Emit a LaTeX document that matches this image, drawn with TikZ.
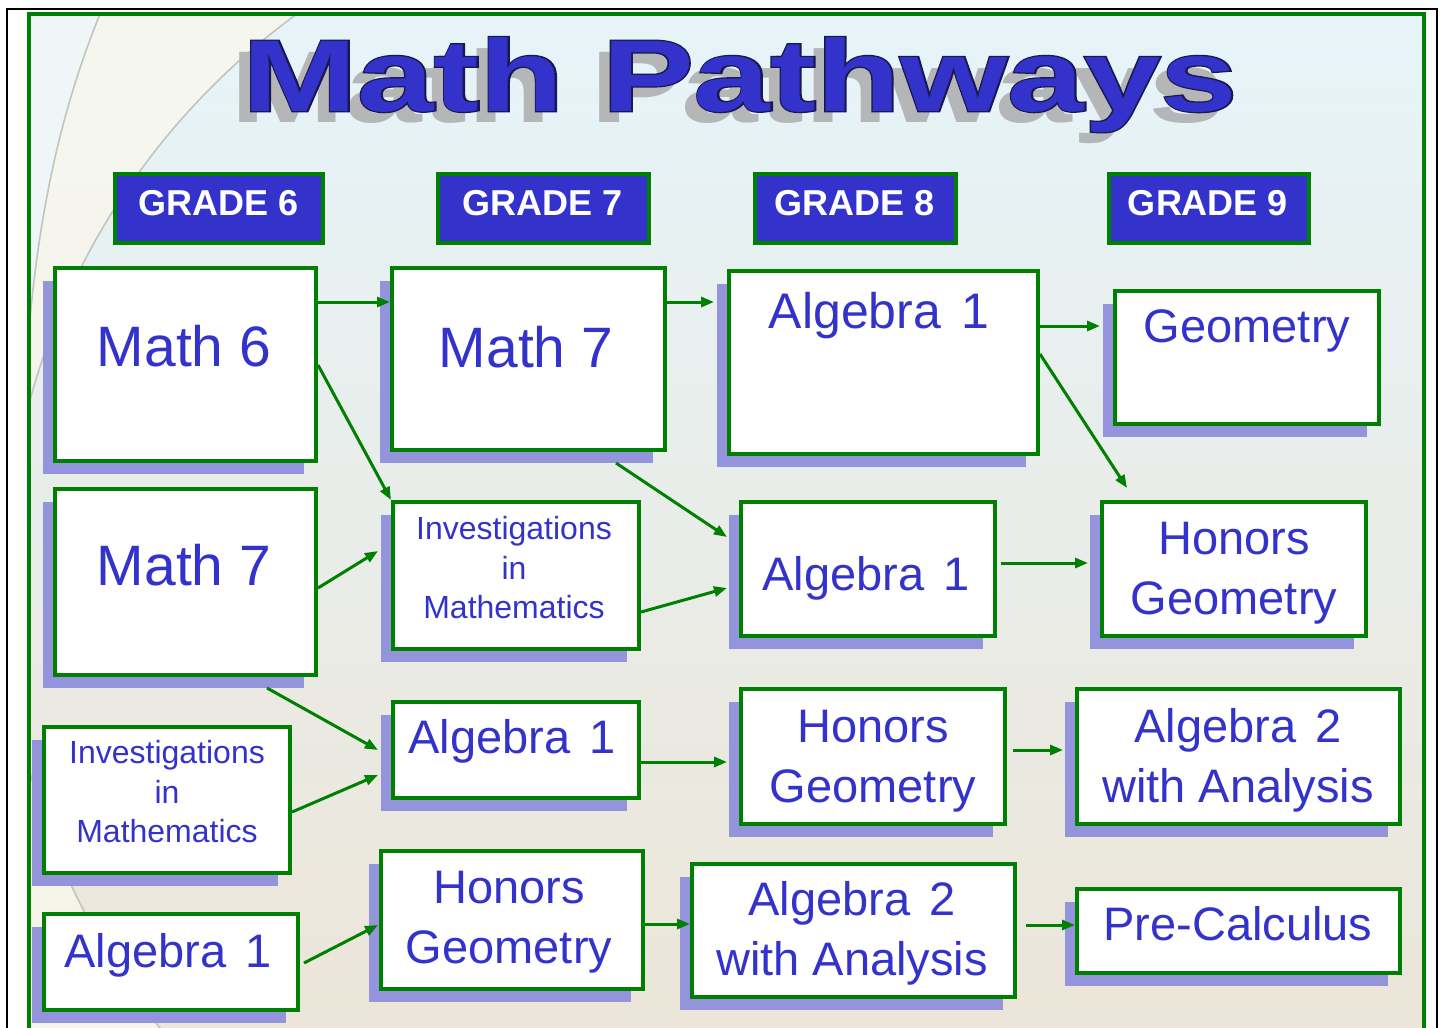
\documentclass[tikz,border=0pt]{standalone}
\usepackage{fontspec}
\setmainfont{Liberation Sans}
\newfontface\titleoutfont[FakeBold=2.5]{Liberation Sans Bold}
\usetikzlibrary{shadows,arrows.meta}
\definecolor{tblue}{RGB}{51,51,204}
\definecolor{gr}{RGB}{0,128,0}
\definecolor{shd}{RGB}{148,148,220}
\definecolor{tout}{RGB}{25,25,80}
\definecolor{tshadow}{RGB}{180,182,184}
\definecolor{bgtop}{RGB}{230,244,249}
\definecolor{bgmid}{RGB}{244,247,243}
\definecolor{bgbot}{RGB}{236,229,216}
\definecolor{cream}{RGB}{249,247,236}
\definecolor{bgleft}{RGB}{238,246,248}
\definecolor{arcc}{RGB}{195,195,192}
\tikzset{
 pbox/.style={draw=gr, line width=4pt, fill=white, inner sep=0pt,
   general shadow={fill=shd, shadow xshift=-12pt, shadow yshift=-13pt}},
 ghead/.style={draw=gr, line width=4pt, fill=tblue, inner sep=0pt},
 gtxt/.style={text=white, inner sep=0pt, anchor=base, font=\fontsize{36}{40}\selectfont\bfseries},
 lbl/.style={text=tblue, inner sep=0pt, anchor=base},
 big/.style={lbl, font=\fontsize{57}{66}\selectfont},
 midl/.style={lbl, font=\fontsize{47}{56}\selectfont},
 sml/.style={lbl, font=\fontsize{32}{40}\selectfont},
 conn/.style={draw=gr, line width=3pt, -{Triangle[length=13pt,width=10pt]}},
}
\newcommand\pb[5]{\node[pbox, minimum width={(#4-#2-4)*1pt}, minimum height={(#5-#3-4)*1pt}] (#1) at ({(#2+#4)/2},{(#3+#5)/2}) {};}
\newcommand\gh[5]{\node[ghead, minimum width={(#4-#2-4)*1pt}, minimum height={(#5-#3-4)*1pt}] (#1) at ({(#2+#4)/2},{(#3+#5)/2}) {};}
\begin{document}
\begin{tikzpicture}[x=1pt,y=-1pt]
\useasboundingbox (0,0) rectangle (1444,1028);
\fill[white] (0,0) rectangle (1444,1028);
% background
\begin{scope}
\clip (29,14) rectangle (1424,1040);
\shade[top color=bgtop, middle color=bgmid, bottom color=bgbot] (29,14) rectangle (1424,1040);
\begin{scope}
\clip (29,14) rectangle (330,1040);
\fill[cream, opacity=0.8, even odd rule] (29,14) rectangle (330,1040) (712.5,586.4) circle[radius=707.3];
\fill[bgleft] (29,14) -- (100,14) .. controls (65,100) and (40,200) .. (29,330) -- cycle;
\draw[arcc, line width=1.6pt] (100,14) .. controls (65,100) and (40,200) .. (29,330);
\draw[arcc, line width=1.6pt] (712.5,586.4) circle[radius=707.3];
\end{scope}
\end{scope}
\draw[black, line width=2.5pt] (7,9) rectangle (1437,1045);
\draw[gr, line width=3.5pt] (29,14) rectangle (1424,1045);
% title
\node[text=tshadow, inner sep=0pt, anchor=base, font=\fontsize{102}{110}\selectfont\bfseries] (tsh) at (728,122) {\scalebox{1.35}[1]{Math Pathways}};
\node[text=tout, inner sep=0pt, anchor=base, font=\fontsize{102}{110}\titleoutfont] (tedge) at (740,111) {\scalebox{1.35}[1]{Math Pathways}};
\node[text=tblue, inner sep=0pt, anchor=base, font=\fontsize{102}{110}\selectfont\bfseries] (title) at (740,111) {\scalebox{1.35}[1]{Math Pathways}};
% grade headers
\gh{g6}{113}{172}{325}{245}
\gh{g7}{436}{172}{651}{245}
\gh{g8}{753}{172}{958}{245}
\gh{g9}{1107}{172}{1311}{245}
\node[gtxt] (g6t) at (219,215) {GRADE 6};
\node[gtxt] (g7t) at (543,215) {GRADE 7};
\node[gtxt] (g8t) at (855,215) {GRADE 8};
\node[gtxt] (g9t) at (1208,215) {GRADE 9};
% boxes
\pb{m6}{53}{266}{318}{463}
\pb{m7a}{53}{487}{318}{677}
\pb{inv1}{42}{725}{292}{875}
\pb{alg1a}{42}{912}{300}{1012}
\pb{m7b}{390}{266}{667}{452}
\pb{inv2}{391}{500}{641}{651}
\pb{alg1b}{391}{700}{641}{800}
\pb{hg2}{379}{849}{645}{991}
\pb{alg1c}{727}{269}{1040}{456}
\pb{alg1d}{739}{500}{997}{638}
\pb{hg3}{739}{687}{1007}{826}
\pb{alg2c}{690}{862}{1017}{999}
\pb{geo}{1113}{289}{1381}{426}
\pb{hg4}{1100}{500}{1368}{638}
\pb{alg2d}{1075}{687}{1402}{826}
\pb{pc}{1075}{887}{1402}{975}
% texts
\node[big] (m6t) at (184,366) {Math 6};
\node[big] (m7at) at (184,585) {Math 7};
\node[big] (m7bt) at (526,367) {Math 7};
\node[sml] (inv1a) at (167,763) {Investigations};
\node[sml] (inv1b) at (167,803) {in};
\node[sml] (inv1c) at (167,842) {Mathematics};
\node[midl] (alg1at) at (168,967) {Algebra\hspace{0.4em}1};
\node[sml] (inv2a) at (514,539) {Investigations};
\node[sml] (inv2b) at (514,579) {in};
\node[sml] (inv2c) at (514,618) {Mathematics};
\node[midl] (alg1bt) at (512,753) {Algebra\hspace{0.4em}1};
\node[midl] (hg2a) at (509,903) {Honors};
\node[midl] (hg2b) at (509,963) {Geometry};
\node[lbl, font=\fontsize{50}{60}\selectfont] (alg1ct) at (879,328) {Algebra\hspace{0.4em}1};
\node[midl] (alg1dt) at (866,590) {Algebra\hspace{0.4em}1};
\node[midl] (hg3a) at (873,742) {Honors};
\node[midl] (hg3b) at (873,802) {Geometry};
\node[midl] (alg2ca) at (852,915) {Algebra\hspace{0.4em}2};
\node[midl] (alg2cb) at (852,975) {with Analysis};
\node[midl] (geot) at (1247,342) {Geometry};
\node[midl] (hg4a) at (1234,554) {Honors};
\node[midl] (hg4b) at (1234,614) {Geometry};
\node[midl] (alg2da) at (1238,742) {Algebra\hspace{0.4em}2};
\node[midl] (alg2db) at (1238,802) {with Analysis};
\node[midl] (pct) at (1238,940) {Pre-Calculus};
% connectors
\draw[conn] ([yshift=-36pt]m6.north east) -- ([yshift=-36pt]m7b.north west);
\draw[conn] ([yshift=-99pt]m6.north east) -- (inv2.north west);
\draw[conn] ([yshift=-101pt]m7a.north east) -- ([xshift=-13pt,yshift=-51pt]inv2.north west);
\draw[conn] ([xshift=-51pt,yshift=-11pt]m7a.south east) -- ([xshift=-13pt,yshift=-50pt]alg1b.north west);
\draw[conn] ([yshift=-87pt]inv1.north east) -- ([xshift=-13pt,yshift=-75pt]alg1b.north west);
\draw[conn] ([xshift=4pt,yshift=-51pt]alg1a.north east) -- ([xshift=-1pt,yshift=-76pt]hg2.north west);
\draw[conn] ([yshift=-36pt]m7b.north east) -- ([xshift=-13pt,yshift=-33pt]alg1c.north west);
\draw[conn] ([xshift=-51pt,yshift=-11pt]m7b.south east) -- ([xshift=-12pt,yshift=-37pt]alg1d.north west);
\draw[conn] ([yshift=-112pt]inv2.north east) -- ([xshift=-12pt,yshift=-88pt]alg1d.north west);
\draw[conn] ([yshift=-62pt]alg1b.north east) -- ([xshift=-12pt,yshift=-75pt]hg3.north west);
\draw[conn] ([xshift=-4pt,yshift=-75pt]hg2.north east) -- ([yshift=-62pt]alg2c.north west);
\draw[conn] ([yshift=-57pt]alg1c.north east) -- ([xshift=-13pt,yshift=-37pt]geo.north west);
\draw[conn] ([yshift=-85pt]alg1c.north east) -- ([xshift=27pt,yshift=12pt]hg4.north west);
\draw[conn] ([xshift=4pt,yshift=-63pt]alg1d.north east) -- ([xshift=-12pt,yshift=-63pt]hg4.north west);
\draw[conn] ([xshift=6pt,yshift=-63pt]hg3.north east) -- ([xshift=-12pt,yshift=-63pt]alg2d.north west);
\draw[conn] ([xshift=9pt,yshift=-63pt]alg2c.north east) -- ([yshift=-38pt]pc.north west);
\end{tikzpicture}
\end{document}
